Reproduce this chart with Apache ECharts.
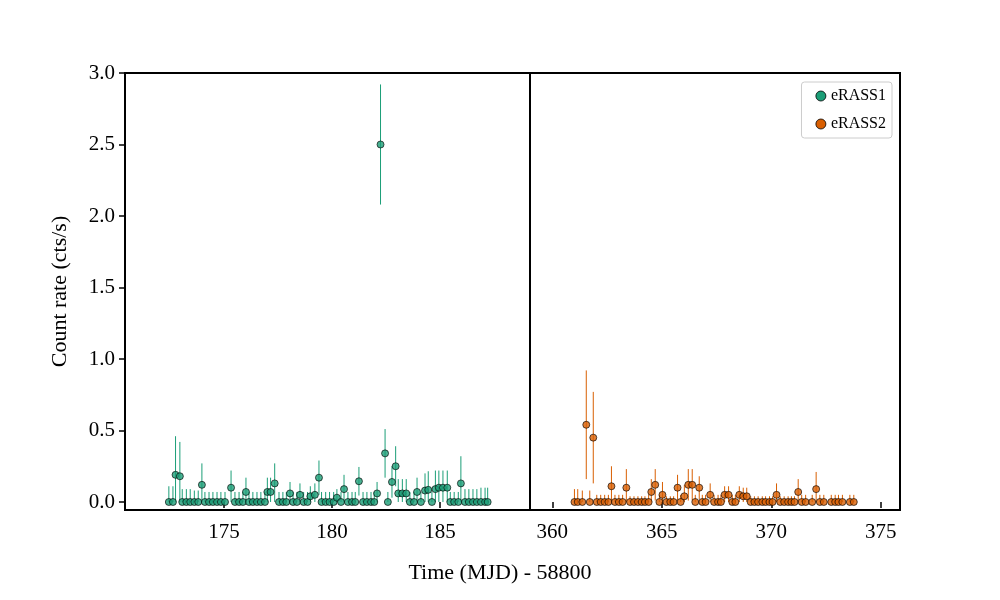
<!DOCTYPE html><html><head><meta charset="utf-8"><script src="https://cdn.jsdelivr.net/npm/echarts@6/dist/echarts.min.js"></script>
<style>body{margin:0}#c{width:1000px;height:600px}</style></head><body><div id="c"></div><script>
const t1=[172.45,172.64,172.76,172.96,173.07,173.26,173.44,173.63,173.81,173.98,174.12,174.31,174.49,174.68,174.86,175.05,175.33,175.51,175.70,175.88,176.02,176.16,176.34,176.53,176.71,176.90,177.01,177.16,177.35,177.55,177.73,177.89,178.06,178.20,178.38,178.52,178.69,178.87,179.00,179.21,179.40,179.52,179.71,179.89,180.08,180.23,180.42,180.56,180.74,180.93,181.08,181.25,181.44,181.62,181.81,181.96,182.09,182.25,182.46,182.59,182.78,182.95,183.07,183.26,183.44,183.61,183.80,183.94,184.12,184.31,184.46,184.63,184.79,184.95,185.14,185.34,185.48,185.66,185.85,185.97,186.16,186.34,186.53,186.71,186.90,187.09,187.21];
const r1=[0,0,0.19,0.18,0,0,0,0,0,0.12,0,0,0,0,0,0,0.10,0,0,0,0.07,0,0,0,0,0,0.07,0.07,0.13,0,0,0,0.06,0,0,0.05,0,0,0.04,0.05,0.17,0,0,0,0,0.03,0,0.09,0,0,0,0.145,0,0,0,0,0.06,2.5,0.34,0,0.14,0.25,0.06,0.06,0.06,0,0,0.07,0,0.08,0.085,0,0.09,0.10,0.10,0.10,0,0,0,0.13,0,0,0,0,0,0,0];
const e1=[0.11,0.11,0.27,0.24,0.09,0.09,0.09,0.08,0.08,0.15,0.07,0.07,0.07,0.07,0.07,0.07,0.12,0.07,0.07,0.07,0.1,0.07,0.07,0.07,0.07,0.07,0.1,0.1,0.14,0.07,0.07,0.07,0.08,0.07,0.07,0.08,0.07,0.07,0.07,0.08,0.12,0.07,0.07,0.07,0.07,0.06,0.07,0.1,0.07,0.07,0.07,0.1,0.07,0.07,0.07,0.07,0.08,0.42,0.17,0.07,0.11,0.14,0.1,0.1,0.1,0.07,0.07,0.1,0.07,0.12,0.13,0.07,0.13,0.12,0.12,0.12,0.07,0.07,0.07,0.19,0.09,0.09,0.09,0.09,0.1,0.1,0.1];
const t2=[361.01,361.16,361.37,361.55,361.71,361.87,362.03,362.21,362.39,362.56,362.70,362.86,363.04,363.21,363.38,363.55,363.73,363.91,364.08,364.23,364.40,364.52,364.70,364.89,365.03,365.21,365.39,365.54,365.72,365.86,366.03,366.21,366.39,366.53,366.71,366.85,367.00,367.21,367.39,367.57,367.70,367.87,368.05,368.22,368.36,368.54,368.72,368.88,369.06,369.23,369.40,369.59,369.74,369.92,370.06,370.24,370.41,370.59,370.77,370.92,371.06,371.23,371.39,371.57,371.87,372.05,372.22,372.40,372.74,372.92,373.07,373.25,373.59,373.77];
const r2=[0,0,0,0.54,0,0.45,0,0,0,0,0.11,0,0,0,0.10,0,0,0,0,0,0,0.07,0.12,0,0.05,0,0,0,0.10,0,0.04,0.12,0.12,0,0.10,0,0,0.05,0,0,0,0.05,0.05,0,0,0.05,0.04,0.04,0,0,0,0,0,0,0,0.05,0,0,0,0,0,0.07,0,0,0,0.09,0,0,0,0,0,0,0,0];
const e2=[0.09,0.09,0.08,0.38,0.08,0.32,0.05,0.05,0.05,0.05,0.14,0.05,0.05,0.05,0.13,0.04,0.04,0.04,0.04,0.04,0.05,0.09,0.11,0.05,0.09,0.04,0.04,0.04,0.09,0.05,0.08,0.11,0.11,0.05,0.08,0.05,0.05,0.08,0.05,0.05,0.05,0.06,0.06,0.05,0.05,0.06,0.06,0.06,0.04,0.04,0.04,0.04,0.04,0.04,0.04,0.08,0.04,0.04,0.04,0.04,0.04,0.09,0.05,0.05,0.05,0.12,0.05,0.05,0.05,0.05,0.05,0.05,0.05,0.05];
const yTicks=[0,0.5,1,1.5,2,2.5,3];
const C1='#1b9e77',C2='#d95f02';
const F='Liberation Serif';
function errData(t,r,e){return t.map((x,i)=>[x,Math.max(0,r[i]-e[i]),r[i]+e[i]]);}
function errSeries(name,idx,data,col){return{name,type:'custom',xAxisIndex:idx,yAxisIndex:idx,data,z:1,itemStyle:{color:col},
 renderItem:(p,api)=>{const a=api.coord([api.value(0),api.value(1)]),b=api.coord([api.value(0),api.value(2)]);
 return{type:'line',shape:{x1:a[0],y1:a[1],x2:b[0],y2:b[1]},style:{stroke:col,lineWidth:1}};}};}
const ax={fontFamily:F,fontSize:21,color:'#000'};
const c=echarts.init(document.getElementById('c'));
c.setOption({animation:false,color:[C1,C2],
 grid:[{left:125,top:73,width:405,height:437,show:true,borderColor:'#000',borderWidth:2,backgroundColor:'transparent'},
       {left:530,top:73,width:370,height:437,show:true,borderColor:'#000',borderWidth:2,backgroundColor:'transparent'}],
 legend:{right:108,top:82,orient:'vertical',itemWidth:10,itemHeight:10,itemGap:12,
  data:[{name:'eRASS1',icon:'circle',itemStyle:{color:C1,borderColor:'#000',borderWidth:0.8}},{name:'eRASS2',icon:'circle',itemStyle:{color:C2,borderColor:'#000',borderWidth:0.8}}],
  borderColor:'#ccc',borderWidth:1,borderRadius:3,padding:[6,6,6,14],textStyle:{fontFamily:F,fontSize:16,color:'#000'}},
 xAxis:[{gridIndex:0,type:'value',min:170.42,max:189.17,splitLine:{show:false},axisLine:{show:false},
   axisTick:{show:true,length:6,lineStyle:{color:'#000',width:1.5},customValues:[175,180,185]},axisLabel:{...ax,margin:12,customValues:[175,180,185]}},
  {gridIndex:1,type:'value',min:358.98,max:375.88,splitLine:{show:false},axisLine:{show:false},
   axisTick:{show:true,length:6,lineStyle:{color:'#000',width:1.5},customValues:[360,365,370,375]},axisLabel:{...ax,margin:12,customValues:[360,365,370,375]}}],
 yAxis:[{gridIndex:0,type:'value',min:-0.056,max:3.0,splitLine:{show:false},axisLine:{show:false},
   axisTick:{show:true,length:6,lineStyle:{color:'#000',width:1.5},customValues:yTicks},
   axisLabel:{...ax,margin:10,customValues:yTicks,formatter:v=>v.toFixed(1)},
   name:'Count rate (cts/s)',nameLocation:'middle',nameGap:54,nameTextStyle:{fontFamily:F,fontSize:22,color:'#000'}},
  {gridIndex:1,type:'value',min:-0.056,max:3.0,splitLine:{show:false},axisLine:{show:false},axisTick:{show:false},axisLabel:{show:false}}],
 graphic:[{type:'text',left:'center',top:562,style:{text:'Time (MJD) - 58800',font:'22px "Liberation Serif"',fill:'#000'}}],
 series:[errSeries('eRASS1',0,errData(t1,r1,e1),C1),errSeries('eRASS2',1,errData(t2,r2,e2),C2),
  {name:'eRASS1',type:'scatter',xAxisIndex:0,yAxisIndex:0,data:t1.map((x,i)=>[x,r1[i]]),symbolSize:7,z:2,itemStyle:{color:C1,borderColor:'#000',borderWidth:0.8}},
  {name:'eRASS2',type:'scatter',xAxisIndex:1,yAxisIndex:1,data:t2.map((x,i)=>[x,r2[i]]),symbolSize:7,z:2,itemStyle:{color:C2,borderColor:'#000',borderWidth:0.8}}]});
</script></body></html>
